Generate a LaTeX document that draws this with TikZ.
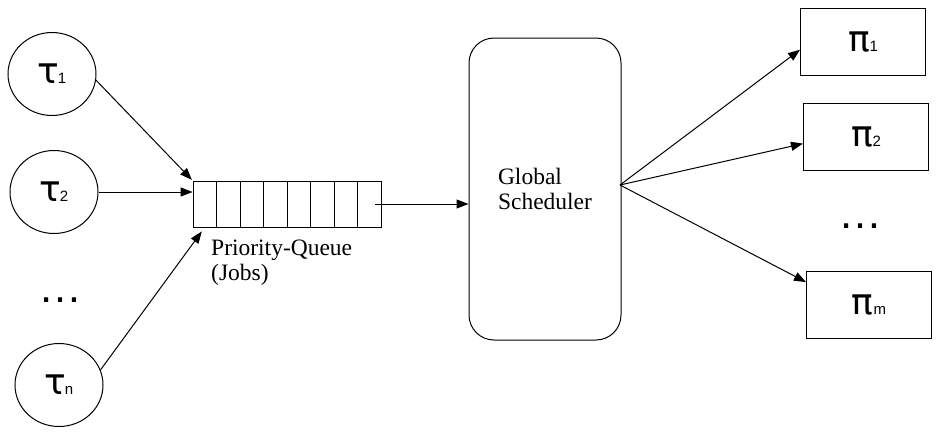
\documentclass[tikz,border=0pt]{standalone}
\usepackage{fontspec}
\setmainfont{Liberation Serif}
\newfontfamily\sansgr{DejaVu Sans}
\newfontfamily\sanssub{Liberation Sans}
\usepackage{tikz}
\usetikzlibrary{shapes.geometric,arrows.meta}
\tikzstyle{tasknode} = [ellipse, draw, line width=1pt, inner sep=0pt, minimum width=88pt, minimum height=83pt]
\tikzstyle{cellnode} = [rectangle, draw, line width=0.8pt, inner sep=0pt, minimum width=23.5pt, minimum height=46pt]
\tikzstyle{procnode} = [rectangle, draw, line width=1pt, inner sep=0pt, minimum width=125pt, minimum height=67pt]
\tikzstyle{flow} = [draw, line width=1pt, -{Triangle[length=12pt,width=9pt]}]
\newcommand{\tsk}[1]{{\sansgr\fontsize{36}{36}\selectfont τ\kern-1.5pt{\sanssub\fontsize{15}{15}\selectfont #1}}}
\newcommand{\prc}[1]{{\sansgr\fontsize{36}{36}\selectfont π\kern0pt{\sanssub\fontsize{15}{15}\selectfont #1}}}
\newcommand{\more}{{\sanssub\fontsize{44}{44}\selectfont …}}
\begin{document}
\begin{tikzpicture}[x=1pt,y=-1pt]
\useasboundingbox (0,0) rectangle (939,434);

\node [tasknode] at (52,74) (t1) {\tsk{1}};
\node [tasknode] at (54,192) (t2) {\tsk{2}};
\node at (60,300) (tdots) {\more};
\node [tasknode] at (59,385) (tn) {\tsk{n}};

%% queue of jobs
\foreach \i in {1,...,8}
  \node [cellnode] at ({193+23.5*(\i-0.5)},204) (c\i) {};
\node [anchor=north west, inner sep=0pt, align=left, font=\fontsize{23.5}{25}\selectfont] at (211,240) (qlabel) {Priority-Queue\\(Jobs)};

\path [flow, shorten >=1pt] (t1.-8) to (c1.north west);
\path [flow] (t2.east) to (t2.east -| c1.west);
\path [flow, shorten >=5pt] (tn.20) to (c1.south);

\node [draw, line width=1pt, rounded corners=25pt, minimum width=152pt, minimum height=302pt, align=left, font=\fontsize{23.5}{25}\selectfont] at (545,189) (sched) {Global\\Scheduler};

\path [flow, shorten <=6pt] (c8.center) to (c8.center -| sched.west);

\node [procnode] at (863,42) (p1) {\prc{1}};
\node [procnode] at (866,137) (p2) {\prc{2}};
\node at (860,226) (pdots) {\more};
\node [procnode] at (869,305) (pm) {\prc{m}};

\coordinate (fork) at (620,185);
\path [flow] (fork) to (p1.187);
\path [flow] (fork) to (p2.186);
\path [flow] (fork) to (pm.160);

\end{tikzpicture}
\end{document}
